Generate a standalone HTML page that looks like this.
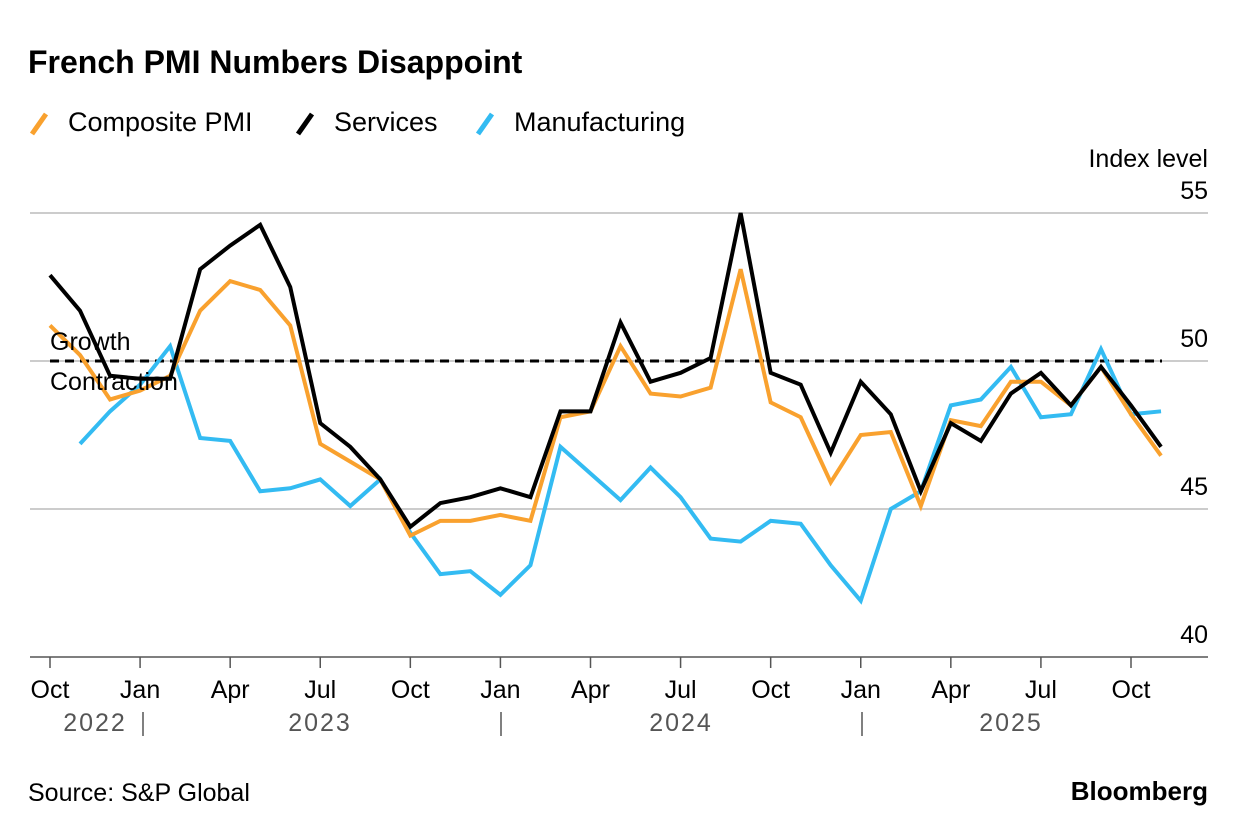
<!DOCTYPE html>
<html><head><meta charset="utf-8"><style>
body{margin:0;background:#fff;font-family:"Liberation Sans",sans-serif;}
svg text{font-family:"Liberation Sans",sans-serif;}
</style></head><body>
<svg id="chart" width="1237" height="834" xmlns="http://www.w3.org/2000/svg">
<text x="28" y="73" font-size="32" font-weight="bold" fill="#000">French PMI Numbers Disappoint</text>
<g>
 <g><line x1="32" y1="134" x2="46" y2="114" stroke="#f9a12e" stroke-width="5"/><text x="68" y="131" font-size="27">Composite PMI</text></g>
 <g><line x1="298" y1="134" x2="312" y2="114" stroke="#000" stroke-width="5"/><text x="334" y="131" font-size="27">Services</text></g>
 <g><line x1="478" y1="134" x2="492" y2="114" stroke="#33bbf2" stroke-width="5"/><text x="514" y="131" font-size="27">Manufacturing</text></g>
</g>
<text x="1208" y="167" font-size="25" text-anchor="end">Index level</text>
<g id="grid"></g><g id="series"></g><g id="xaxis"></g>
<text x="50" y="350" font-size="25">Growth</text>
<text x="50" y="390" font-size="25">Contraction</text>
<text x="28" y="801" font-size="25">Source: S&amp;P Global</text>
<text x="1208" y="800" font-size="26" font-weight="bold" text-anchor="end">Bloomberg</text>
</svg>
<script>
const composite=[51.2,50.2,48.7,49.0,49.5,51.7,52.7,52.4,51.2,47.2,46.6,46.0,44.1,44.6,44.6,44.8,44.6,48.1,48.3,50.5,48.9,48.8,49.1,53.1,48.6,48.1,45.9,47.5,47.6,45.1,48.0,47.8,49.3,49.3,48.5,49.8,48.2,46.8];
const services=[52.9,51.7,49.5,49.4,49.4,53.1,53.9,54.6,52.5,47.9,47.1,46.0,44.4,45.2,45.4,45.7,45.4,48.3,48.3,51.3,49.3,49.6,50.1,55.0,49.6,49.2,46.9,49.3,48.2,45.6,47.9,47.3,48.9,49.6,48.5,49.8,48.5,47.1];
const manufacturing=[null,47.2,48.3,49.2,50.5,47.4,47.3,45.6,45.7,46.0,45.1,46.0,44.2,42.8,42.9,42.1,43.1,47.1,46.2,45.3,46.4,45.4,44.0,43.9,44.6,44.5,43.1,41.9,45.0,45.6,48.5,48.7,49.8,48.1,48.2,50.4,48.2,48.3];
const yTicks=[40,45,50,55];
const monthLabels=["Oct","Jan","Apr","Jul"];
const years=["2022","2023","2024","2025"];
const NS="http://www.w3.org/2000/svg";
const x=i=>50+i*(1131-50)/36;
const y=v=>657-(v-40)*29.6;
function mk(t,a,p){const e=document.createElementNS(NS,t);for(const k in a)e.setAttribute(k,a[k]);p.appendChild(e);return e;}
const grid=document.getElementById('grid');
yTicks.forEach(v=>{
 const l=mk('line',{x1:30,x2:1208,y1:y(v),y2:y(v),stroke:v===40?'#555':'#bbb','stroke-width':1.5},grid);
 
 
 const t=mk('text',{x:1208,y:y(v)-14,'font-size':25,'text-anchor':'end'},grid);t.textContent=v;
 
 
});
const ref=mk('line',{x1:50,x2:1162,y1:y(50),y2:y(50),stroke:'#000','stroke-width':3,'stroke-dasharray':'9,6'},grid);


const xa=document.getElementById('xaxis');
for(let i=0;i<=36;i+=3){
 const tk=mk('line',{x1:x(i),x2:x(i),y1:657,y2:668,stroke:'#555','stroke-width':1.5},xa);
 
 
 const t=mk('text',{x:x(i),y:698,'font-size':25,'text-anchor':'middle'},xa);t.textContent=monthLabels[(i/3)%4];
 
 
}
const yrX=[95,320,681,1011];
years.forEach((yr,k)=>{const t=mk('text',{x:yrX[k],y:731,'font-size':25,'text-anchor':'middle',fill:'#555','letter-spacing':'2'},xa);t.textContent=yr;
 
 });
[143,501,862].forEach(px=>{const l=mk('line',{x1:px,x2:px,y1:712,y2:736,stroke:'#555','stroke-width':1.5},xa);
 
 });
const sg=document.getElementById('series');
function line(data,color,name){
 let d='';let pen=false;
 data.forEach((v,i)=>{if(v==null){pen=false;return;}d+=(pen?'L':'M')+x(i)+','+y(v);pen=true;});
 const p=mk('path',{d:d,fill:'none',stroke:color,'stroke-width':4,'stroke-linejoin':'miter'},sg);
 
 
}
line(manufacturing,'#33bbf2','manufacturing-line');
line(composite,'#f9a12e','composite-line');
line(services,'#000','services-line');
</script>
</body></html>
